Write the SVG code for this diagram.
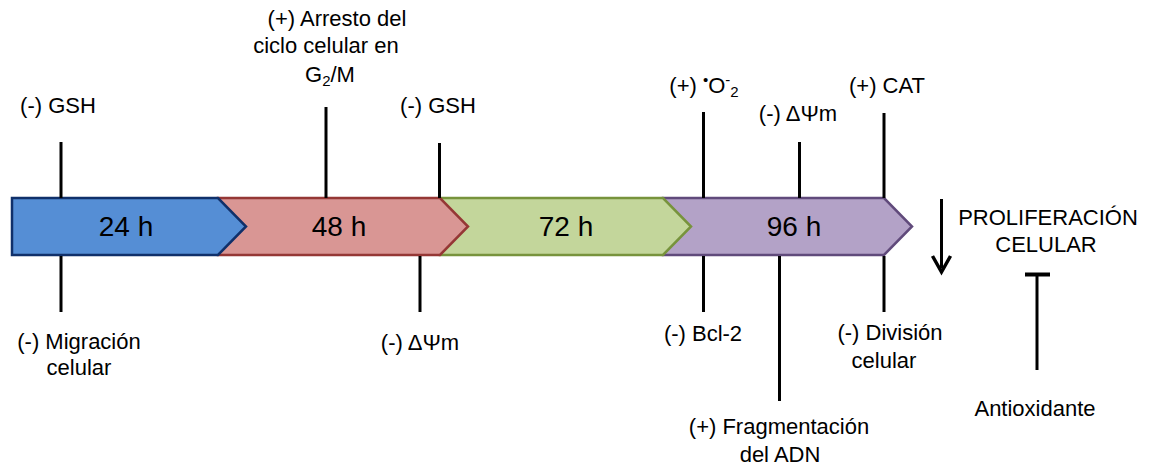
<svg xmlns="http://www.w3.org/2000/svg" width="1153" height="466" viewBox="0 0 1153 466">
<style>
text{font-family:"Liberation Sans",Arial,sans-serif;font-size:22px;fill:#000;text-anchor:middle}
.big{font-size:28px}
.ln{stroke:#000;stroke-width:3;fill:none}
.seg{stroke-width:2.5;stroke-linejoin:miter}
</style>
<rect width="1153" height="466" fill="#fff"/>
<g id="seg96"><path class="seg" d="M663,198 H884 L912,226.5 L884,255 H663 Z" fill="#b3a2c7" stroke="#604a7b"/><text class="big" x="794" y="236">96 h</text></g>
<g id="seg72"><path class="seg" d="M440,198 H663 L691,226.5 L663,255 H440 Z" fill="#c3d69b" stroke="#77933c"/><text class="big" x="566" y="236">72 h</text></g>
<g id="seg48"><path class="seg" d="M218,198 H440 L468,226.5 L440,255 H218 Z" fill="#d99694" stroke="#953735"/><text class="big" x="339" y="236">48 h</text></g>
<g id="seg24"><path class="seg" d="M12,198 H218 L246,226.5 L218,255 H12 Z" fill="#558ed5" stroke="#10306a"/><text class="big" x="126" y="236">24 h</text></g>
<g id="connectors">
<line class="ln" x1="61" y1="142" x2="61" y2="198"/>
<line class="ln" x1="61" y1="256" x2="61" y2="312"/>
<line class="ln" x1="326" y1="107" x2="326" y2="198"/>
<line class="ln" x1="439.5" y1="143" x2="439.5" y2="198"/>
<line class="ln" x1="420" y1="256" x2="420" y2="312"/>
<line class="ln" x1="703.5" y1="112" x2="703.5" y2="198"/>
<line class="ln" x1="703.5" y1="256" x2="703.5" y2="312"/>
<line class="ln" x1="799.5" y1="142" x2="799.5" y2="198"/>
<line class="ln" x1="779.5" y1="256" x2="779.5" y2="401"/>
<line class="ln" x1="884" y1="113" x2="884" y2="198"/>
<line class="ln" x1="884" y1="256" x2="884" y2="312"/>
<line class="ln" x1="941.5" y1="199" x2="941.5" y2="268"/>
<path d="M932.5,256 L941.5,272 L950.5,256" fill="none" stroke="#000" stroke-width="3.5" stroke-linejoin="miter"/>
<line class="ln" x1="1037" y1="274" x2="1037" y2="370"/>
<line x1="1025" y1="274.5" x2="1050" y2="274.5" stroke="#000" stroke-width="4"/>
</g>
<g id="labels-top">
<text x="58" y="113">(-) GSH</text>
<text x="337" y="26">(+) Arresto del</text>
<text x="326" y="53">ciclo celular en</text>
<text x="330" y="82">G<tspan font-size="15" dy="4">2</tspan><tspan dy="-4">/M</tspan></text>
<text x="438" y="113">(-) GSH</text>
<text x="704" y="93">(+) <tspan font-size="15" dy="-8">•</tspan><tspan dy="8">O</tspan><tspan font-size="15" dy="-8">-</tspan><tspan font-size="15" dy="12">2</tspan></text>
<text x="798" y="121">(-) ΔΨm</text>
<text x="887" y="93">(+) CAT</text>
</g>
<g id="labels-bottom">
<text x="79" y="349">(-) Migración</text>
<text x="79" y="375">celular</text>
<text x="420" y="350">(-) ΔΨm</text>
<text x="703" y="341">(-) Bcl-2</text>
<text x="890" y="340">(-) División</text>
<text x="884" y="368">celular</text>
<text x="779" y="434">(+) Fragmentación</text>
<text x="780" y="462">del ADN</text>
</g>
<g id="proliferacion">
<text x="1048" y="225">PROLIFERACIÓN</text>
<text x="1046" y="252">CELULAR</text>
</g>
<g id="antioxidante"><text x="1035" y="416">Antioxidante</text></g>
</svg>
